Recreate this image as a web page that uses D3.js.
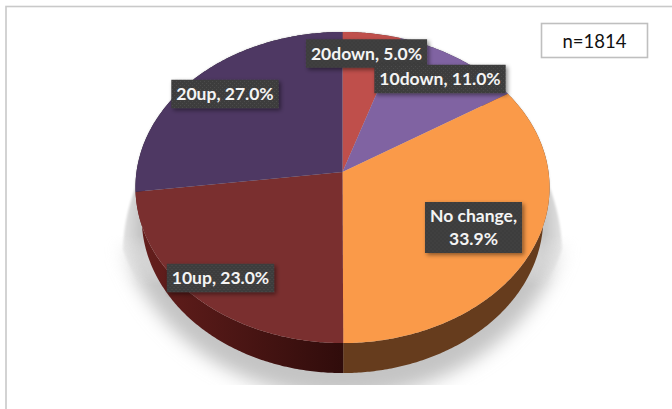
<!DOCTYPE html>
<html>
<head>
<meta charset="utf-8">
<script src="https://cdn.jsdelivr.net/npm/d3@7"></script>
<style>
	body { margin: 0; background: #fff; }
	svg { display: block; }
	text { font-family: Lato, sans-serif; }
</style>
</head>
<body>
<div id="chart"></div>
<script>
	// values as printed on the chart labels
	var categories = ["20down", "10down", "No change", "10up", "20up"];
	var shares = [5.0, 11.0, 33.9, 23.0, 27.0];
	var sampleSize = "n=1814";

	var faceColors = ["#bf4f4b", "#8063a2", "#fa9a49", "#7a2f2f", "#4e3863"];
	var wallColors = ["#5f2725", "#403151", "#663c1d", "url(#wallRed)", "#271c31"];

	// label box centres, picked by hand like the original chart
	var labelCentres = [[366.5, 53.5], [440, 79], [473.5, 227.5], [220.5, 278], [225, 94]];
	var labelLines = [
		["20down, 5.0%"],
		["10down, 11.0%"],
		["No change,", "33.9%"],
		["10up, 23.0%"],
		["20up, 27.0%"]
	];

	var svgwidth = 672;
	var svgheight = 409;
	var depth = 30;
	var centreX = 342.5;

	// the pie is tilted: a circle seen in perspective, far edge on top
	var tilt = 0.0997;
	var pieX = d3.scaleLinear().domain([-1, 1]).range([centreX - 206, centreX + 206]);
	var pieY = d3.scaleLinear().domain([-1, 1]).range([172 - 154, 172 + 154]);

	var project = function(angle) {
		var u = Math.sin(angle), v = -Math.cos(angle);
		var w = 1 - tilt * v;
		return [pieX(u / w), pieY(v / w)];
	};

	var rimPoints = function(a0, a1) {
		var n = Math.max(2, Math.ceil((a1 - a0) / 0.01));
		return d3.range(n + 1).map(function(i) {
			return project(a0 + (a1 - a0) * i / n);
		});
	};

	// bottom rim of the wall sits a bit narrower than the top face
	var lowerRim = function(p) {
		return [centreX + (p[0] - centreX) * 0.97, p[1] + depth];
	};

	// ground shadow outline: the rim pushed down and out
	var shadowRim = function(p) {
		var t = Math.max(0, (p[1] - 187) / 156);
		var k = 1 + 0.11 * Math.min(1, t / 0.3);
		return [centreX + (p[0] - centreX) * k, p[1] + 54 * t];
	};

	var svg = d3.select("#chart")
				.append("svg")
				.attr("width", svgwidth)
				.attr("height", svgheight);

	var defs = svg.append("defs");

	var wallRed = defs.append("linearGradient")
				.attr("id", "wallRed")
				.attr("gradientUnits", "userSpaceOnUse")
				.attr("x1", 136).attr("x2", 342).attr("y1", 0).attr("y2", 0);
	wallRed.append("stop").attr("offset", 0).attr("stop-color", "#661f1d");
	wallRed.append("stop").attr("offset", 1).attr("stop-color", "#300c0b");

	var makeMask = function(id, y1, y2, from, to) {
		var g = defs.append("linearGradient")
				.attr("id", id + "Fade")
				.attr("gradientUnits", "userSpaceOnUse")
				.attr("x1", 0).attr("x2", 0).attr("y1", y1).attr("y2", y2);
		g.append("stop").attr("offset", 0).attr("stop-color", "#fff").attr("stop-opacity", from);
		g.append("stop").attr("offset", 1).attr("stop-color", "#fff").attr("stop-opacity", to);
		defs.append("mask").attr("id", id)
			.attr("maskUnits", "userSpaceOnUse")
			.attr("x", 0).attr("y", 0).attr("width", svgwidth).attr("height", svgheight)
			.append("rect").attr("width", svgwidth).attr("height", svgheight).attr("fill", "url(#" + id + "Fade)");
	};
	makeMask("shadowSharp", 235, 285, 1, 0);
	makeMask("shadowSoft", 235, 285, 0, 1);

	var makeBlur = function(id, amount) {
		defs.append("filter").attr("id", id)
			.attr("x", "-20%").attr("y", "-20%").attr("width", "140%").attr("height", "140%")
			.append("feGaussianBlur").attr("stdDeviation", amount);
	};
	makeBlur("blurSharp", 1.2);
	makeBlur("blurSoft", 9);

	var shadowFill = defs.append("radialGradient")
				.attr("id", "shadowFill")
				.attr("gradientUnits", "userSpaceOnUse")
				.attr("cx", centreX).attr("cy", 230).attr("r", 225);
	shadowFill.append("stop").attr("offset", 0.9).attr("stop-color", "#c6c6c6");
	shadowFill.append("stop").attr("offset", 1).attr("stop-color", "#ececec");

	defs.append("clipPath").attr("id", "shadowClip")
		.append("rect").attr("width", svgwidth).attr("height", 385);

	var dots = defs.append("pattern").attr("id", "labelDots")
				.attr("patternUnits", "userSpaceOnUse")
				.attr("width", 4).attr("height", 4);
	dots.append("rect").attr("width", 4).attr("height", 4).attr("fill", "#3c3c3c");
	dots.append("rect").attr("x", 1).attr("y", 1).attr("width", 1).attr("height", 1).attr("fill", "#4c4c4c");
	dots.append("rect").attr("x", 3).attr("y", 3).attr("width", 1).attr("height", 1).attr("fill", "#4c4c4c");

	var labelShadow = defs.append("filter").attr("id", "labelShadow")
				.attr("x", "-15%").attr("y", "-25%").attr("width", "130%").attr("height", "160%");
	labelShadow.append("feDropShadow")
		.attr("dx", 2).attr("dy", 2).attr("stdDeviation", 2)
		.attr("flood-color", "#000").attr("flood-opacity", 0.45);

	// chart frame, only its top and left edge fall inside the picture
	svg.append("rect")
		.attr("x", 6).attr("y", 6.5)
		.attr("width", svgwidth + 20).attr("height", svgheight + 20)
		.attr("fill", "#fff")
		.attr("stroke", "#c9c9c9")
		.attr("stroke-width", 1.6);

	var pie = d3.pie().sort(null)(shares);
	var line = d3.line();

	// ground shadow: crisp near the top, soft towards the bottom
	var shadowPath = line(rimPoints(0, 2 * Math.PI).map(shadowRim)) + "Z";
	var shadowLayer = svg.append("g").attr("clip-path", "url(#shadowClip)");
	shadowLayer.append("g")
		.attr("mask", "url(#shadowSharp)")
		.append("path")
		.attr("d", shadowPath)
		.attr("fill", "url(#shadowFill)")
		.attr("filter", "url(#blurSharp)");
	shadowLayer.append("g")
		.attr("mask", "url(#shadowSoft)")
		.append("path")
		.attr("d", shadowPath)
		.attr("fill", "#c4c4c4")
		.attr("filter", "url(#blurSoft)");

	// side walls, the top faces paint over whatever faces away
	var walls = svg.append("g");
	walls.selectAll("path")
		.data(pie)
		.enter()
		.append("path")
		.attr("d", function(d) {
			var rim = rimPoints(d.startAngle, d.endAngle);
			var low = rim.slice().reverse().map(lowerRim);
			return line(rim.concat(low)) + "Z";
		})
		.attr("fill", function(d, i) { return wallColors[i]; });

	var faces = svg.append("g");
	faces.selectAll("path")
		.data(pie)
		.enter()
		.append("path")
		.attr("d", function(d) {
			return line([[pieX(0), pieY(0)]].concat(rimPoints(d.startAngle, d.endAngle))) + "Z";
		})
		.attr("fill", function(d, i) { return faceColors[i]; });

	// data labels
	var labels = svg.selectAll("g.label")
		.data(categories)
		.enter()
		.append("g")
		.attr("class", "label")
		.attr("transform", function(d, i) {
			return "translate(" + labelCentres[i][0] + "," + labelCentres[i][1] + ")";
		});

	var rowHeight = 22.5;
	labels.each(function(d, i) {
		var g = d3.select(this);
		var rows = labelLines[i];
		var box = g.append("rect").attr("fill", "url(#labelDots)").attr("filter", "url(#labelShadow)");
		var text = g.append("text")
			.attr("text-anchor", "middle")
			.attr("fill", "#f4f4f4")
			.attr("font-size", 17.5)
			.attr("font-weight", 700);
		rows.forEach(function(r, k) {
			text.append("tspan")
				.attr("x", 0)
				.attr("y", (k - (rows.length - 1) / 2) * rowHeight + 6)
				.text(r);
		});
		var w = text.node().getBBox().width + 10;
		var h = rows.length * rowHeight + 6;
		box.attr("x", -w / 2).attr("y", -h / 2).attr("width", w).attr("height", h);
	});

	// sample size box
	svg.append("rect")
		.attr("x", 541.5).attr("y", 23.5)
		.attr("width", 106).attr("height", 34)
		.attr("fill", "#fff")
		.attr("stroke", "#bfbfbf")
		.attr("stroke-width", 1.6);
	svg.append("text")
		.attr("x", 594.5).attr("y", 47.5)
		.attr("text-anchor", "middle")
		.attr("font-size", 18.5)
		.attr("fill", "#111")
		.text(sampleSize);
</script>
</body>
</html>
